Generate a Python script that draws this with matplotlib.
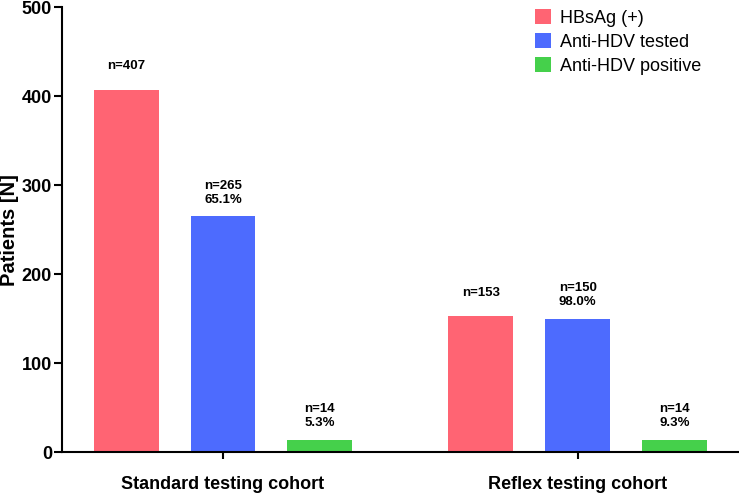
import numpy as np
import matplotlib
matplotlib.use('Agg')
import matplotlib.pyplot as plt
from matplotlib.patches import Patch

RED = '#FF6473'
BLUE = '#4D6BFE'
GREEN = '#45D04B'

cohorts = ['Standard testing cohort', 'Reflex testing cohort']
series = ['HBsAg (+)', 'Anti-HDV tested', 'Anti-HDV positive']
hbsag = [407, 153]
tested = [265, 150]
positive = [14, 14]
tested_pct = ['65.1%', '98.0%']
positive_pct = ['5.3%', '9.3%']

plt.rcParams['font.family'] = ['Liberation Sans', 'DejaVu Sans']

fig = plt.figure(figsize=(7.39, 4.94), dpi=100)
ax = fig.add_axes([0.0835, 0.0844, 0.9155, 0.9008])

x = np.arange(len(cohorts))
step = 0.2727
width = 0.183
colors = [RED, BLUE, GREEN]
values = [hbsag, tested, positive]

for i, (vals, col) in enumerate(zip(values, colors)):
    bars = ax.bar(x + (i - 1) * step, vals, width=width, color=col, label=series[i])
    for j, bar in enumerate(bars):
        if i == 0:
            label = f'n={vals[j]}'
        elif i == 1:
            label = f'n={vals[j]}\n{tested_pct[j]}'
        else:
            label = f'n={vals[j]}\n{positive_pct[j]}'
        ax.annotate(label, (bar.get_x() + bar.get_width() / 2, bar.get_height()),
                    xytext=(0, 17), textcoords='offset points',
                    ha='center', va='center', fontsize=9.5, fontweight='bold')

ax.set_xlim(-0.455, 1.453)
ax.set_ylim(0, 500)
ax.set_yticks([0, 100, 200, 300, 400, 500])
ax.set_xticks(x)
ax.set_xticklabels(cohorts, fontsize=13, fontweight='bold')
for lab in ax.get_yticklabels():
    lab.set_fontweight('bold')
    lab.set_fontsize(13)
ax.tick_params(axis='y', length=6, width=1.5, pad=1)
ax.tick_params(axis='x', length=5, width=1.5, pad=12)
ax.set_ylabel('Patients [N]', fontsize=14.5, fontweight='bold', labelpad=2)

for side in ['top', 'right']:
    ax.spines[side].set_visible(False)
for side in ['left', 'bottom']:
    ax.spines[side].set_linewidth(1.5)

handles = [Patch(facecolor=c, label=s) for c, s in zip(colors, series)]
fig.legend(handles=handles, loc='upper left', bbox_to_anchor=(535 / 739, 1 - 9 / 494),
           frameon=False, fontsize=13, handlelength=0.9, handleheight=0.9,
           handletextpad=0.5, labelspacing=0.36, borderpad=0, borderaxespad=0)

plt.savefig('out.png', dpi=100)
plt.close()
